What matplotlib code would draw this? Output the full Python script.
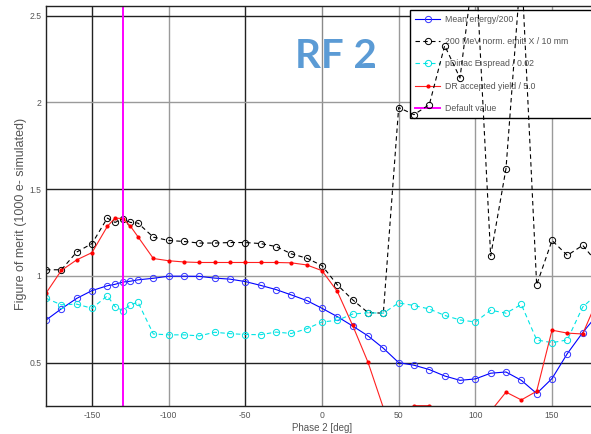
import matplotlib
matplotlib.use("Agg")
import matplotlib.pyplot as plt

plt.rcParams['font.family'] = ['Liberation Sans', 'DejaVu Sans']
plt.rcParams['axes.unicode_minus'] = False

# phase 2 scan points [deg]
phase = [-180, -170, -160, -150, -140, -135, -130, -125, -120, -110, -100, -90, -80,
         -70, -60, -50, -40, -30, -20, -10, 0, 10, 20, 30, 40, 50, 60, 70, 80, 90,
         100, 110, 120, 130, 140, 150, 160, 170, 180]

mean_energy = [0.745, 0.81, 0.87, 0.915, 0.943, 0.951, 0.964, 0.969, 0.977, 0.986,
               0.998, 0.998, 0.997, 0.987, 0.981, 0.967, 0.945, 0.921, 0.89, 0.858,
               0.813, 0.765, 0.711, 0.654, 0.583, 0.5, 0.485, 0.46, 0.423, 0.398,
               0.406, 0.439, 0.446, 0.398, 0.322, 0.408, 0.552, 0.673, 0.78]

emit_x = [1.035, 1.035, 1.137, 1.186, 1.333, 1.308, 1.327, 1.308, 1.304, 1.223,
          1.204, 1.198, 1.189, 1.189, 1.192, 1.192, 1.186, 1.169, 1.127, 1.102,
          1.059, 0.948, 0.862, 0.788, 0.785, 1.97, 1.929, 1.987, 2.327, 2.14,
          2.85, 1.115, 1.618, 2.8, 0.948, 1.204, 1.118, 1.176, 1.07]

e_spread = [0.871, 0.833, 0.837, 0.813, 0.885, 0.823, 0.8, 0.833, 0.848, 0.665,
            0.66, 0.66, 0.654, 0.675, 0.667, 0.662, 0.661, 0.676, 0.668, 0.695,
            0.734, 0.744, 0.78, 0.787, 0.785, 0.844, 0.829, 0.809, 0.772, 0.746,
            0.734, 0.802, 0.785, 0.835, 0.631, 0.615, 0.631, 0.82, 0.9]

dr_yield = [0.9, 1.031, 1.092, 1.134, 1.285, 1.333, 1.33, 1.287, 1.225, 1.1,
            1.087, 1.08, 1.077, 1.077, 1.077, 1.077, 1.077, 1.077, 1.075, 1.063,
            1.03, 0.91, 0.714, 0.502, 0.24, 0.2, 0.252, 0.252, 0.22, 0.2,
            0.2, 0.22, 0.33, 0.285, 0.335, 0.687, 0.67, 0.665, 0.87]

default_phase = -130

xticks = [-150, -100, -50, 0, 50, 100, 150]
yticks = [0.5, 1, 1.5, 2, 2.5]
ytick_labels = ['0.5', '1', '1.5', '2', '2.5']

txt = '#555555'

fig = plt.figure(figsize=(5.91, 4.34), dpi=100)
# axes runs a little past the right edge, like the cropped original
ax = fig.add_axes([46/591, 1-406/434, 552/591, 400/434])

ax.plot(phase, mean_energy, '-', color='#0000ff', lw=0.8, marker='o', ms=4.5,
        mfc='none', mec='#3333ff', mew=0.7, label='Mean energy/200')
ax.plot(phase, emit_x, '--', color='black', lw=0.8, dashes=(4, 3), marker='o', ms=4.5,
        mfc='none', mec='black', mew=0.7, label='200 MeV norm. emit. X / 10 mm')
ax.plot(phase, e_spread, '--', color='#00e5e5', lw=0.8, dashes=(4, 3), marker='o', ms=4.5,
        mfc='none', mec='#00e0e0', mew=0.7, label='pDinac E spread / 0.02')
ax.plot(phase, dr_yield, '-', color='#ff2020', lw=0.8, marker='o', ms=2,
        mfc='#ff0000', mec='#ff0000', label='DR accepted yield / 5.0')
ax.axvline(default_phase, color='#ff00ff', lw=1.4, label='Default value')

ax.set_xlim(-180, 180)
ax.set_ylim(0.25, 2.555)
ax.set_xticks(xticks)
ax.set_xticklabels([str(t) for t in xticks])
ax.set_yticks(yticks)
ax.set_yticklabels(ytick_labels)
ax.tick_params(length=0, labelsize=6.2, colors=txt, pad=3.5)

ax.grid(True)
xcols = ['#222222', '#9a9a9a', '#222222', '#8a8a8a', '#9a9a9a', '#9a9a9a', '#9a9a9a']
for gl, c in zip(ax.get_xgridlines(), xcols):
    gl.set_color(c)
    gl.set_linewidth(1.0)
ycols = ['#222222', '#9a9a9a', '#222222', '#9a9a9a', '#222222']
for gl, c in zip(ax.get_ygridlines(), ycols):
    gl.set_color(c)
    gl.set_linewidth(1.0)

for s in ax.spines.values():
    s.set_color('#222222')
    s.set_linewidth(1.0)

ax.set_xlabel('Phase 2 [deg]', fontsize=7, color=txt, labelpad=2)
ax.set_ylabel('Figure of merit (1000 e- simulated)', fontsize=9, color=txt)
ax.yaxis.set_label_coords(-0.035, 0.48)

# legend box is cut by the right edge in the original, so let it run past it
top = 1 - 10/434
leg = ax.legend(loc='upper left', bbox_to_anchor=(410/591, 0.5, 195/591, top - 0.5),
                bbox_transform=fig.transFigure, mode='expand', borderaxespad=0,
                fontsize=6.3, fancybox=False, framealpha=1, edgecolor='black',
                handlelength=2.85, handletextpad=0.55, labelspacing=1.5, borderpad=0.6)
leg.get_frame().set_linewidth(1.0)
leg.set_zorder(1.8)  # hides the grid but data lines stay on top, as in the original
for t in leg.get_texts():
    t.set_color(txt)

fig.text(336/591, 1-57/434, 'RF 2', fontsize=29, fontweight='bold', family='Lato',
         color='#5b9bd5', ha='center', va='center')

fig.savefig('out.png', dpi=100)
